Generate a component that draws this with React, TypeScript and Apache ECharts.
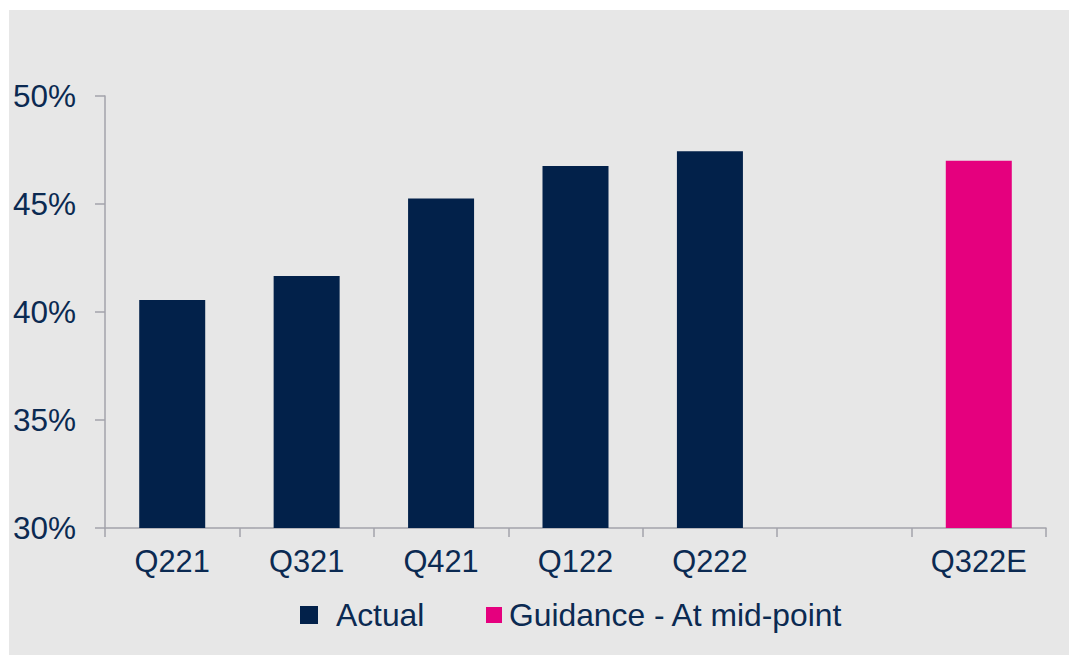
import React, { useEffect, useRef } from "react";
import * as echarts from "echarts";

const categories = ["Q221", "Q321", "Q421", "Q122", "Q222", "", "Q322E"];
const actualValues = [40.55, 41.67, 45.25, 46.76, 47.44, null, null];
const guidanceValues = [null, null, null, null, null, null, 47.0];
const yTicks = { min: 30, max: 50, interval: 5 };

const NAVY = "#02214a";
const TEXT = "#0b2a52";
const PINK = "#e5007e";
const AXIS = "#a3a3ab";
const FONT = "'Liberation Sans', Arial, sans-serif";

export default function App() {
  const ref = useRef<HTMLDivElement>(null);
  useEffect(() => {
    document.body.style.margin = "0";
    const chart = echarts.init(ref.current!, null, { renderer: "svg" });
    chart.setOption({
      animation: false,
      backgroundColor: "#e7e7e7",
      textStyle: { fontFamily: FONT },
      grid: { left: 96, right: 23, top: 86, bottom: 127, containLabel: false },
      legend: [
        {
          data: ["Actual"],
          left: 286,
          top: 584,
          itemWidth: 18,
          itemHeight: 18,
          icon: "rect",
          textStyle: { color: TEXT, fontSize: 31.8, fontFamily: FONT, padding: [0, 0, 0, 13] },
        },
        {
          data: ["Guidance - At mid-point"],
          left: 472,
          top: 584,
          itemWidth: 16,
          itemHeight: 16,
          icon: "rect",
          textStyle: { color: TEXT, fontSize: 31.8, fontFamily: FONT, padding: [0, 0, 0, 2] },
        },
      ],
      xAxis: {
        type: "category",
        data: categories,
        axisLine: { show: true, lineStyle: { color: AXIS, width: 1.5 } },
        axisTick: { show: true, length: 9, lineStyle: { color: AXIS, width: 1.5 } },
        axisLabel: { color: TEXT, fontSize: 30.8, fontFamily: FONT, margin: 18 },
        splitLine: { show: false },
      },
      yAxis: {
        type: "value",
        min: yTicks.min,
        max: yTicks.max,
        interval: yTicks.interval,
        axisLine: { show: true, lineStyle: { color: AXIS, width: 1.5 } },
        axisTick: { show: true, length: 10, lineStyle: { color: AXIS, width: 1.5 } },
        axisLabel: {
          color: TEXT,
          fontSize: 31.5,
          fontFamily: FONT,
          margin: 29,
          formatter: "{value}%",
        },
        splitLine: { show: false },
      },
      series: [
        {
          name: "Actual",
          type: "bar",
          data: actualValues,
          barWidth: 66,
          barGap: "-100%",
          itemStyle: { color: NAVY },
        },
        {
          name: "Guidance - At mid-point",
          type: "bar",
          data: guidanceValues,
          barWidth: 66,
          barGap: "-100%",
          itemStyle: { color: PINK },
        },
      ],
    });
    return () => chart.dispose();
  }, []);
  return (
    <div style={{ width: 1069, height: 655, background: "#ffffff", position: "relative" }}>
      <div
        ref={ref}
        style={{ position: "absolute", left: 9, top: 10, width: 1060, height: 645 }}
      />
    </div>
  );
}
